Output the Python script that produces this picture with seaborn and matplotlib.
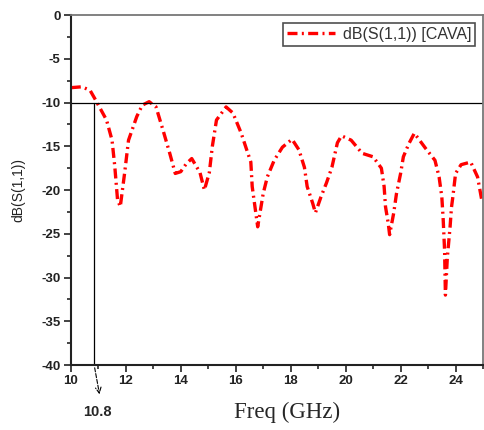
import pandas as pd
import matplotlib.pyplot as plt
import seaborn as sns
from matplotlib.ticker import MultipleLocator

# S11 curve
freq = [10.0, 10.4, 10.7, 10.9, 11.3, 11.5, 11.6, 11.7, 11.8, 11.96, 12.1, 12.4,
        12.6, 12.85, 13.1, 13.35, 13.6, 13.8, 14.0, 14.2, 14.4, 14.7, 14.86,
        15.04, 15.15, 15.3, 15.65, 15.9, 16.2, 16.4, 16.55, 16.6, 16.7, 16.8,
        17.0, 17.15, 17.4, 17.7, 18.05, 18.3, 18.5, 18.6, 18.8, 18.9, 19.1,
        19.3, 19.5, 19.7, 19.85, 20.2, 20.6, 21.0, 21.3, 21.4, 21.45, 21.55,
        21.6, 21.75, 21.85, 22.0, 22.1, 22.3, 22.5, 22.9, 23.25, 23.4, 23.5,
        23.55, 23.6, 23.63, 23.7, 23.8, 23.85, 23.9, 24.0, 24.2, 24.55, 24.8,
        24.95, 25.0]
s11 = [-8.3, -8.2, -8.6, -9.7, -12.0, -14.3, -17.3, -21.1, -21.9, -18.0, -14.3,
       -11.6, -10.3, -9.9, -10.5, -13.1, -15.8, -18.1, -17.9, -17.0, -16.4,
       -18.0, -20.0, -18.0, -15.0, -12.0, -10.5, -11.2, -13.5, -15.4, -16.8,
       -19.6, -21.9, -24.2, -20.4, -18.5, -16.6, -15.1, -14.2, -15.4, -17.4,
       -19.6, -21.5, -22.6, -20.8, -19.2, -17.4, -14.6, -13.8, -14.3, -15.8,
       -16.2, -17.5, -19.6, -21.9, -23.8, -25.1, -22.6, -20.4, -18.1, -16.2,
       -14.7, -13.5, -15.2, -16.6, -18.5, -20.8, -23.4, -26.9, -32.0, -27.7,
       -24.2, -22.0, -20.8, -18.1, -17.1, -16.8, -18.5, -21.1, -21.3]

label = "dB(S(1,1)) [CAVA]"
marker_f = 10.85
marker_text = "10.8"
level = -10

df = pd.DataFrame({"Freq": freq, "S11": s11})

sns.set_style("ticks")
plt.rcParams["font.family"] = ["Liberation Sans", "DejaVu Sans"]
plt.rcParams["axes.unicode_minus"] = False

fig = plt.figure(figsize=(4.85, 4.3), dpi=100)
ax = fig.add_axes([0.146, 0.151, 0.85, 0.814])

sns.lineplot(data=df, x="Freq", y="S11", ax=ax, color="red", lw=2.4,
             label=label, dashes=False)
ax.lines[0].set_dashes((3, 1.3, 0.6, 1.3))

ax.axhline(level, color="black", lw=0.9)
ax.plot([marker_f, marker_f], [level, -40], color="black", lw=0.9)
ax.annotate("", xy=(100, 33), xycoords="figure pixels",
            xytext=(marker_f, -40), textcoords="data",
            arrowprops=dict(arrowstyle="->", ls="--", lw=0.8, color="black"),
            annotation_clip=False)
fig.text(97 / 485, 1 - 412 / 430, marker_text, ha="center", va="center",
         fontsize=10.5, fontweight="bold")

ax.set_xlim(10, 25)
ax.set_ylim(-40, 0)
ax.xaxis.set_major_locator(MultipleLocator(2))
ax.xaxis.set_minor_locator(MultipleLocator(1))
ax.yaxis.set_major_locator(MultipleLocator(5))
ax.yaxis.set_minor_locator(MultipleLocator(2.5))
ax.tick_params(which="major", length=5, width=1.2, labelsize=9.5,
               colors="#222222", direction="out", pad=2.5)
ax.tick_params(which="minor", length=3, width=1.2, direction="out")
for t in ax.get_xticklabels() + ax.get_yticklabels():
    t.set_fontweight("bold")

for side in ["left", "bottom"]:
    ax.spines[side].set_color("#222222")
    ax.spines[side].set_linewidth(1.5)
for side in ["top", "right"]:
    ax.spines[side].set_visible(True)
    ax.spines[side].set_color("#777777")
    ax.spines[side].set_linewidth(1.3)

ax.set_xlabel("")
ax.set_ylabel("dB(S(1,1))", fontsize=10, color="#222222")
ax.yaxis.set_label_coords(-0.11, 0.5)
fig.text(287 / 485, 1 - 412 / 430, "Freq (GHz)", ha="center", va="center",
         fontsize=16.5, family=["Liberation Serif", "DejaVu Serif"])

leg = ax.legend(loc="upper right", fontsize=11.5, frameon=True, fancybox=False,
                handlelength=3.0, handletextpad=0.5, borderpad=0.25,
                borderaxespad=0.5)
leg.get_frame().set_edgecolor("#222222")
leg.get_frame().set_linewidth(1.2)
for t in leg.get_texts():
    t.set_color("#333333")

fig.savefig("out.png", dpi=100)
